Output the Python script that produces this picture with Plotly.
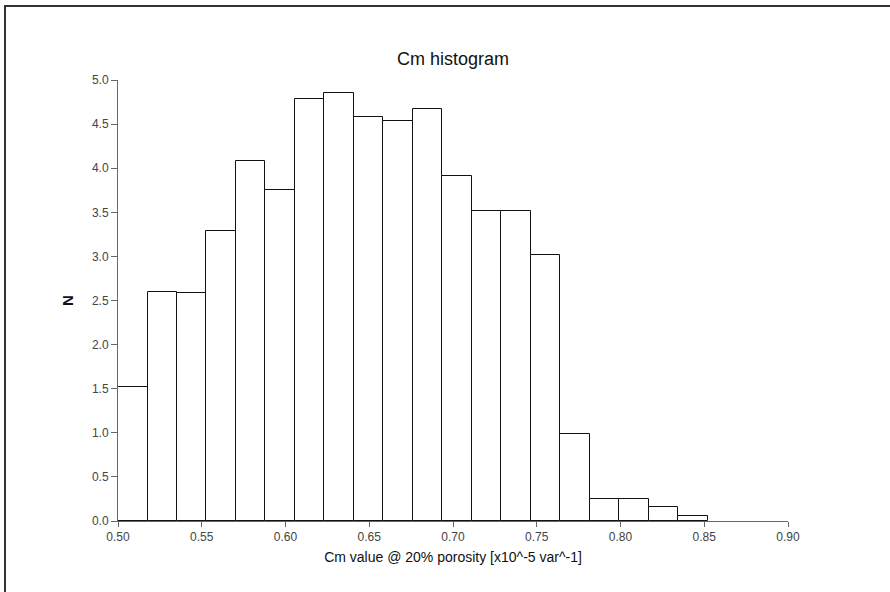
import plotly.graph_objects as go

bin_start = 0.5
bin_width = 0.01761
density = [1.52, 2.60, 2.58, 3.29, 4.08, 3.75, 4.79, 4.85, 4.58, 4.54,
           4.67, 3.91, 3.52, 3.52, 3.02, 0.99, 0.25, 0.25, 0.16, 0.06]
x_ticks = [0.50, 0.55, 0.60, 0.65, 0.70, 0.75, 0.80, 0.85, 0.90]
y_ticks = [0.0, 0.5, 1.0, 1.5, 2.0, 2.5, 3.0, 3.5, 4.0, 4.5, 5.0]

centers = [bin_start + (i + 0.5) * bin_width for i in range(len(density))]

fig = go.Figure()
fig.add_trace(go.Bar(
    x=centers, y=density, width=bin_width,
    marker=dict(color="white", line=dict(color="#111111", width=1)),
    showlegend=False, hoverinfo="x+y",
))

W, H = 890, 592
L, T = 118, 80
pw, ph = 670, 441
R, B = W - L - pw, H - T - ph

fig.update_layout(
    width=W, height=H,
    margin=dict(l=L, r=R, t=T, b=B),
    paper_bgcolor="white", plot_bgcolor="white",
    font=dict(family="Liberation Sans, Arial, sans-serif", color="#222"),
    title=dict(text="Cm histogram", x=0.5, xref="paper", xanchor="center",
               y=1 - 59 / H, yref="container", yanchor="middle",
               font=dict(size=18, color="#111")),
    bargap=0,
    xaxis=dict(range=[0.5, 0.9], tickvals=x_ticks, tickformat=".2f",
               showgrid=False, zeroline=False, showline=True,
               linecolor="#666", linewidth=1, ticks="outside", ticklen=5,
               tickcolor="#666", tickfont=dict(size=12, color="#444"),
               title=dict(text="Cm value @ 20% porosity [x10^-5 var^-1]",
                          font=dict(size=14, color="#111"), standoff=8)),
    yaxis=dict(range=[0, 5], tickvals=y_ticks, tickformat=".1f",
               showgrid=False, zeroline=False, showline=True,
               linecolor="#666", linewidth=1, ticks="outside", ticklen=6,
               tickcolor="#666", tickfont=dict(size=12, color="#444"),
               title=dict(text="<b>N</b>", font=dict(size=15, color="#111"),
                          standoff=14)),
)

# outer frame (left and top visible)
fig.add_shape(type="rect", xref="paper", yref="paper",
              x0=(5 - L) / pw, x1=(W + 20 - L) / pw,
              y0=-(B + 20) / ph, y1=(H - B - 6) / ph,
              line=dict(color="#333", width=2), fillcolor="rgba(0,0,0,0)",
              layer="below")

fig.write_html("out.html",
               config={"displayModeBar": False},
               post_script="document.body.style.margin='0';")
